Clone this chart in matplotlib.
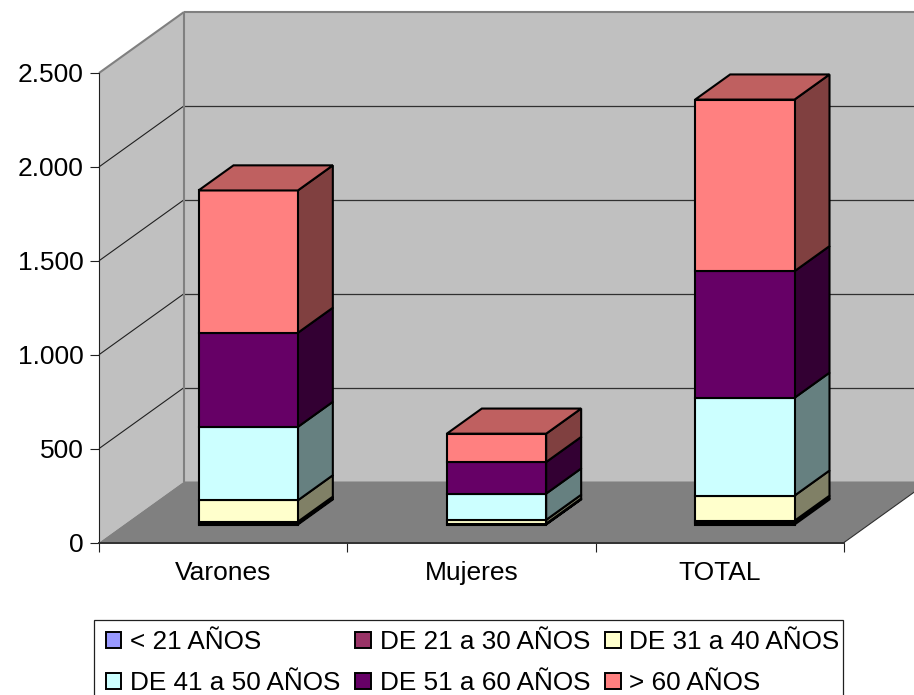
import matplotlib
matplotlib.use("Agg")
import matplotlib.pyplot as plt
from matplotlib.patches import Polygon, Patch, Rectangle

plt.rcParams['font.family'] = ['Liberation Sans', 'DejaVu Sans']

categories = ["Varones", "Mujeres", "TOTAL"]
series_names = ["< 21 AÑOS", "DE 21 a 30 AÑOS", "DE 31 a 40 AÑOS",
                "DE 41 a 50 AÑOS", "DE 51 a 60 AÑOS", "> 60 AÑOS"]
under_21 = [5, 2, 7]
from_21_30 = [10, 3, 13]
from_31_40 = [114, 20, 134]
from_41_50 = [391, 140, 521]
from_51_60 = [501, 168, 674]
over_60 = [758, 151, 914]
series_values = [under_21, from_21_30, from_31_40, from_41_50, from_51_60, over_60]

y_ticks = [0, 500, 1000, 1500, 2000, 2500]
y_labels = ["0", "500", "1.000", "1.500", "2.000", "2.500"]

# front, side and top colours of each series
front_colors = ["#9999FF", "#993366", "#FFFFCC", "#CCFFFF", "#660066", "#FF8080"]
side_colors = ["#4D4D80", "#4D1A33", "#808066", "#668080", "#330033", "#804040"]
top_colors = ["#7373BF", "#73264D", "#BFBF99", "#99BFBF", "#4D004D", "#BF6060"]

FONT = 19
LEGEND_FONT = 18.8

W, H = 914, 695
fig = plt.figure(figsize=(W / 100, H / 100), dpi=100, facecolor="white")
ax = fig.add_axes([99 / W, 1 - 542.5 / H, 745 / W, 469.5 / H])
ax.set_xlim(0, 3)
ax.set_ylim(0, 2500)
ax.patch.set_visible(False)

# how far one full step into the chart moves things, in data units
DEPTH_X = 85 / 745 * 3
DEPTH_Y = 61 / 469.5 * 2500


def at(x, y, d):
    return (x + d * DEPTH_X, y + d * DEPTH_Y)


def poly(points, color, edge="none", lw=0, z=1):
    ax.add_patch(Polygon(points, closed=True, facecolor=color, edgecolor=edge,
                         linewidth=lw, clip_on=False, zorder=z, joinstyle="miter"))


def line(p, q, color="black", lw=0.8, z=1.2):
    ax.plot([p[0], q[0]], [p[1], q[1]], color=color, lw=lw, clip_on=False,
            zorder=z, solid_capstyle="butt")


# walls and floor
poly([at(0, 0, 1), at(3, 0, 1), at(3, 2500, 1), at(0, 2500, 1)], "#C0C0C0")
poly([at(0, 0, 0), at(0, 0, 1), at(0, 2500, 1), at(0, 2500, 0)], "#C0C0C0")
poly([at(0, 0, 0), at(3, 0, 0), at(3, 0, 1), at(0, 0, 1)], "#808080")
line(at(3, 0, 0), at(3, 0, 1), "#303030", 0.8)
for v in y_ticks[1:-1]:
    line(at(0, v, 0), at(0, v, 1), "#202020", 0.8)
    line(at(0, v, 1), at(3, v, 1), "#303030", 0.9)
line(at(0, 0, 1), at(0, 2500, 1), "#808080", 1.5, 1.3)
line(at(0, 2500, 0), at(0, 2500, 1), "#808080", 1.5, 1.3)
line(at(0, 2500, 1), at(3, 2500, 1), "#808080", 1.5, 1.3)

# stacked boxes
BAR_LEFT = 0.3
BAR_RIGHT = 0.7
D_FRONT = 25 / 85
D_BACK = 60 / 85
EDGE = 1.5
for i in range(len(categories)):
    x0 = i + BAR_LEFT
    x1 = i + BAR_RIGHT
    base = 0
    for s, values in enumerate(series_values):
        top = base + values[i]
        poly([at(x1, base, D_FRONT), at(x1, base, D_BACK), at(x1, top, D_BACK), at(x1, top, D_FRONT)],
             side_colors[s], "black", EDGE, 2 + s * 0.1)
        poly([at(x0, base, D_FRONT), at(x1, base, D_FRONT), at(x1, top, D_FRONT), at(x0, top, D_FRONT)],
             front_colors[s], "black", EDGE, 2 + s * 0.1)
        base = top
    poly([at(x0, base, D_FRONT), at(x1, base, D_FRONT), at(x1, base, D_BACK), at(x0, base, D_BACK)],
         top_colors[-1], "black", EDGE, 3)

# axes
for name in ["top", "right"]:
    ax.spines[name].set_visible(False)
ax.spines["left"].set_linewidth(0.8)
ax.spines["left"].set_color("#202020")
ax.spines["bottom"].set_linewidth(1.4)
ax.spines["bottom"].set_color("#303030")
ax.set_yticks(y_ticks)
ax.set_yticklabels(y_labels, fontsize=FONT)
ax.set_xticks([0, 1, 2, 3])
ax.set_xticklabels([])
ax.set_xticks([0.5, 1.5, 2.5], minor=True)
ax.set_xticklabels(categories, minor=True, fontsize=FONT)
ax.tick_params(axis="x", which="major", length=6.5, width=0.8, color="#202020")
ax.tick_params(axis="x", which="minor", length=0, pad=13)
ax.tick_params(axis="y", length=6.5, width=0.8, color="#202020", pad=4.5)

# legend box runs off the lower edge of the figure, as in the original
fig.add_artist(Rectangle((94.3 / W, 1 - 705 / H), (843 - 94.3) / W, 85 / H, transform=fig.transFigure,
                         facecolor="white", edgecolor="#202020", linewidth=0.9))
handles = [Patch(facecolor=c, edgecolor="black", linewidth=1.4) for c in front_colors]
order = [0, 3, 1, 4, 2, 5]
leg = fig.legend([handles[k] for k in order], [series_names[k] for k in order], ncol=3,
                 loc="upper left", bbox_to_anchor=(95.3 / W, 1 - 620 / H),
                 bbox_transform=fig.transFigure, fontsize=LEGEND_FONT, frameon=False,
                 borderaxespad=0, borderpad=0.4,
                 handlelength=0.6, handleheight=0.58, handletextpad=0.34,
                 columnspacing=0.56, labelspacing=0.63)

fig.savefig("out.png", dpi=100)
